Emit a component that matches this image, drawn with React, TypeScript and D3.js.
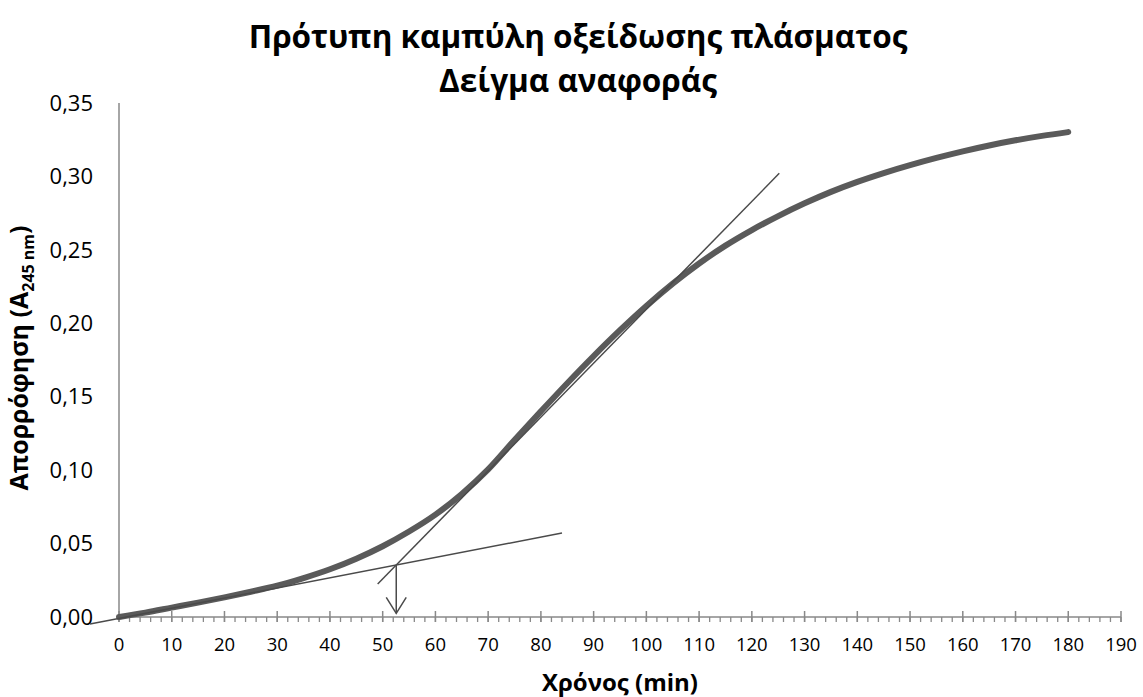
import React from "react";
import * as d3 from "d3";

// ---- data ----
const timeMin = [0, 5, 10, 15, 20, 25, 30, 35, 40, 45, 50, 55, 60, 65, 70, 75, 80, 85, 90, 95, 100, 105, 110, 115, 120, 125, 130, 135, 140, 145, 150, 155, 160, 165, 170, 175, 180];
const absorbance = [0.0, 0.003, 0.0064, 0.0098, 0.0134, 0.0172, 0.0213, 0.0265, 0.0325, 0.0397, 0.0482, 0.0582, 0.0697, 0.0838, 0.1005, 0.1205, 0.14, 0.1592, 0.1777, 0.1953, 0.2118, 0.227, 0.2407, 0.2529, 0.2635, 0.273, 0.2817, 0.2895, 0.2963, 0.3023, 0.3077, 0.3126, 0.3171, 0.3211, 0.3246, 0.3276, 0.3302];

// tangent lines (x in min, y in absorbance)
const baselineTangentX = [-5.5, 84];
const baselineTangentY = [-0.0048, 0.0572];
const slopeTangentX = [49.05, 125.2];
const slopeTangentY = [0.0225, 0.3021];
const arrowTipY = 0.0025;

const xTickValues = [0, 10, 20, 30, 40, 50, 60, 70, 80, 90, 100, 110, 120, 130, 140, 150, 160, 170, 180, 190];
const xMinorValues = d3.range(0, 191, 2);
const yTickValues = [0, 0.05, 0.1, 0.15, 0.2, 0.25, 0.3, 0.35];

const titleLines = ["Πρότυπη καμπύλη οξείδωσης πλάσματος", "Δείγμα αναφοράς"];
const xTitle = "Χρόνος (min)";

const W = 1143;
const H = 697;
const FONT = "'Open Sans', 'Noto Sans', sans-serif";

export default function App() {
  const x = d3.scaleLinear().domain([0, 190]).range([119, 1121]);
  const y = d3.scaleLinear().domain([0, 0.35]).range([617, 103]);
  const fmt = d3.formatLocale({ decimal: ",", thousands: ".", grouping: [3], currency: ["", "€"] }).format(".2f");

  const pts = timeMin.map((t, i) => [t, absorbance[i]] as [number, number]);
  const line = d3
    .line<[number, number]>()
    .x((d) => x(d[0]))
    .y((d) => y(d[1]))
    .curve(d3.curveMonotoneX);

  // intersection of the two tangents
  const m1 = (baselineTangentY[1] - baselineTangentY[0]) / (baselineTangentX[1] - baselineTangentX[0]);
  const m2 = (slopeTangentY[1] - slopeTangentY[0]) / (slopeTangentX[1] - slopeTangentX[0]);
  const b1 = baselineTangentY[0] - m1 * baselineTangentX[0];
  const b2 = slopeTangentY[0] - m2 * slopeTangentX[0];
  const ix = (b2 - b1) / (m1 - m2);
  const iy = m1 * ix + b1;

  const axisColor = "#898989";
  const tanColor = "#4a4a4a";
  const tipX = x(ix);
  const tipY = y(arrowTipY);

  return (
    <svg width={W} height={H} style={{ position: "absolute", left: 0, top: 0, background: "#fff" }}>
      {/* title */}
      <text x={578} y={48} textAnchor="middle" fontFamily={FONT} fontWeight="bold" fontSize={31.5} fill="#000">
        {titleLines[0]}
      </text>
      <text x={578} y={92} textAnchor="middle" fontFamily={FONT} fontWeight="bold" fontSize={31.5} fill="#000">
        {titleLines[1]}
      </text>

      {/* y axis */}
      <line x1={x(0)} x2={x(0)} y1={y(0.35)} y2={y(0)} stroke={axisColor} strokeWidth={1.5} />
      {yTickValues.map((v) => (
        <text key={v} x={93} y={y(v)} dy="0.35em" textAnchor="end" fontFamily={FONT} fontSize={22} fill="#000">
          {fmt(v)}
        </text>
      ))}

      {/* x axis */}
      <line x1={x(0)} x2={x(190)} y1={y(0)} y2={y(0)} stroke={axisColor} strokeWidth={1.5} />
      {xMinorValues.map((v) => (
        <line key={"m" + v} x1={x(v)} x2={x(v)} y1={y(0)} y2={y(0) + 5} stroke={axisColor} strokeWidth={1.3} />
      ))}
      {xTickValues.map((v) => (
        <line key={"t" + v} x1={x(v)} x2={x(v)} y1={y(0) - 6} y2={y(0) + 5} stroke={axisColor} strokeWidth={1.5} />
      ))}
      {xTickValues.map((v) => (
        <text key={"l" + v} x={x(v)} y={645} dy="0.35em" textAnchor="middle" fontFamily={FONT} fontSize={18.5} fill="#000">
          {v}
        </text>
      ))}

      {/* axis titles */}
      <text x={x(95)} y={683} dy="0.35em" textAnchor="middle" fontFamily={FONT} fontWeight="bold" fontSize={24} fill="#000">
        {xTitle}
      </text>
      <text
        transform="translate(28,358) rotate(-90)"
        textAnchor="middle"
        fontFamily={FONT}
        fontWeight="bold"
        fontSize={25}
        fill="#000"
      >
        Απορρόφηση (A
        <tspan fontSize={16} dy={6}>245 nm</tspan>
        <tspan dy={-6}>)</tspan>
      </text>

      {/* data curve */}
      <path d={line(pts) || ""} fill="none" stroke="#5a5a5a" strokeWidth={6} strokeLinecap="round" strokeLinejoin="round" />

      {/* tangents */}
      <line
        x1={x(baselineTangentX[0])}
        y1={y(baselineTangentY[0])}
        x2={x(baselineTangentX[1])}
        y2={y(baselineTangentY[1])}
        stroke={tanColor}
        strokeWidth={1.5}
      />
      <line
        x1={x(slopeTangentX[0])}
        y1={y(slopeTangentY[0])}
        x2={x(slopeTangentX[1])}
        y2={y(slopeTangentY[1])}
        stroke={tanColor}
        strokeWidth={1.5}
      />

      {/* arrow */}
      <line x1={tipX} y1={y(iy)} x2={tipX} y2={tipY} stroke={tanColor} strokeWidth={1.5} />
      <polyline
        points={`${tipX - 10},${tipY - 16} ${tipX},${tipY} ${tipX + 10},${tipY - 16}`}
        fill="none"
        stroke={tanColor}
        strokeWidth={1.5}
      />
    </svg>
  );
}
